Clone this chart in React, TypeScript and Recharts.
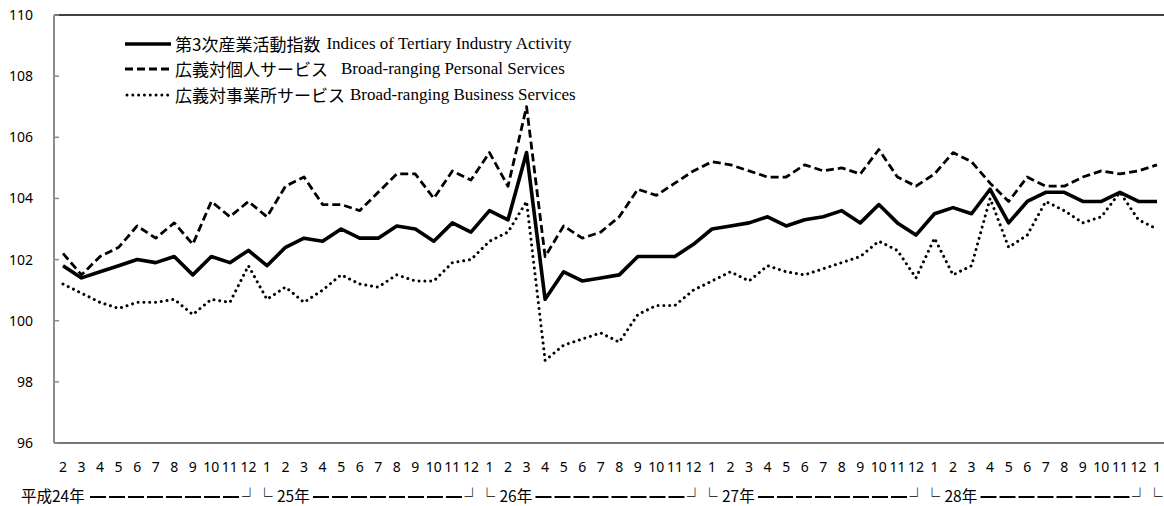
import React from 'react';
import { LineChart, Line, XAxis, YAxis, ReferenceLine, Legend } from 'recharts';

// Month labels along the axis (H24 Feb – H29 Jan)
const months = [
  2, 3, 4, 5, 6, 7, 8, 9, 10, 11, 12,
  1, 2, 3, 4, 5, 6, 7, 8, 9, 10, 11, 12,
  1, 2, 3, 4, 5, 6, 7, 8, 9, 10, 11, 12,
  1, 2, 3, 4, 5, 6, 7, 8, 9, 10, 11, 12,
  1, 2, 3, 4, 5, 6, 7, 8, 9, 10, 11, 12,
  1,
];

// last group only shows its corner mark at the edge of the picture
const yearLabels = ['平成24年', '25年', '26年', '27年', '28年', ''];

const tertiary = [
  101.8, 101.4, 101.6, 101.8, 102.0, 101.9, 102.1, 101.5, 102.1, 101.9, 102.3,
  101.8, 102.4, 102.7, 102.6, 103.0, 102.7, 102.7, 103.1, 103.0, 102.6, 103.2, 102.9,
  103.6, 103.3, 105.5, 100.7, 101.6, 101.3, 101.4, 101.5, 102.1, 102.1, 102.1, 102.5,
  103.0, 103.1, 103.2, 103.4, 103.1, 103.3, 103.4, 103.6, 103.2, 103.8, 103.2, 102.8,
  103.5, 103.7, 103.5, 104.3, 103.2, 103.9, 104.2, 104.2, 103.9, 103.9, 104.2, 103.9,
  103.9,
];

const personal = [
  102.2, 101.5, 102.1, 102.4, 103.1, 102.7, 103.2, 102.5, 103.9, 103.4, 103.9,
  103.4, 104.4, 104.7, 103.8, 103.8, 103.6, 104.2, 104.8, 104.8, 104.0, 104.9, 104.6,
  105.5, 104.4, 107.0, 102.1, 103.1, 102.7, 102.9, 103.4, 104.3, 104.1, 104.5, 104.9,
  105.2, 105.1, 104.9, 104.7, 104.7, 105.1, 104.9, 105.0, 104.8, 105.6, 104.7, 104.4,
  104.8, 105.5, 105.2, 104.5, 103.9, 104.7, 104.4, 104.4, 104.7, 104.9, 104.8, 104.9,
  105.1,
];

const business = [
  101.2, 100.9, 100.6, 100.4, 100.6, 100.6, 100.7, 100.2, 100.7, 100.6, 101.8,
  100.7, 101.1, 100.6, 101.0, 101.5, 101.2, 101.1, 101.5, 101.3, 101.3, 101.9, 102.0,
  102.6, 102.9, 103.9, 98.7, 99.2, 99.4, 99.6, 99.3, 100.2, 100.5, 100.5, 101.0,
  101.3, 101.6, 101.3, 101.8, 101.6, 101.5, 101.7, 101.9, 102.1, 102.6, 102.3, 101.4,
  102.7, 101.5, 101.8, 104.0, 102.4, 102.8, 103.9, 103.6, 103.2, 103.4, 104.2, 103.3,
  103.0,
];

const yTicks = [96, 98, 100, 102, 104, 106, 108, 110];

const legendJp = ['第3次産業活動指数', '広義対個人サービス', '広義対事業所サービス'];
const legendEn = [
  'Indices of Tertiary Industry Activity',
  'Broad-ranging Personal Services',
  'Broad-ranging Business Services',
];

const data = months.map((m, i) => ({
  key: `p${i}`,
  month: m,
  tertiary: tertiary[i],
  personal: personal[i],
  business: business[i],
}));

// layout
const W = 1164;
const H = 506;
const Y_AXIS_W = 54;
const X_AXIS_H = 63;
const PAD = { left: 9, right: 7 };
const STEP = (W - Y_AXIS_W - PAD.left - PAD.right) / (months.length - 1);

const groupStarts = months
  .map((m, i) => (i === 0 || m === 1 ? i : -1))
  .filter((i) => i >= 0);

const JP_FONT = '"Noto Sans CJK JP", "Noto Sans", sans-serif';
const NUM_FONT = '"Noto Sans", "Open Sans", sans-serif';
const EN_FONT = '"Liberation Serif", "DejaVu Serif", serif';

const styles = [
  { stroke: '#000', width: 3.6, dash: undefined as string | undefined, cap: 'butt' },
  { stroke: '#000', width: 2.8, dash: '8 4', cap: 'butt' },
  { stroke: '#000', width: 3, dash: '0.01 5.8', cap: 'round' },
];
const legendGaps = [6, 13, 5];

const XTick = (props: any) => {
  const { x, y, payload } = props;
  const index: number = props.index ?? payload?.index ?? 0;
  const m = months[index];
  const gi = groupStarts.indexOf(index);
  let group: React.ReactNode = null;
  if (gi >= 0) {
    const endIdx = gi + 1 < groupStarts.length ? groupStarts[gi + 1] - 1 : null;
    const endX = endIdx !== null ? x + (endIdx - index) * STEP : null;
    const yb = y + 59;
    const ly = y + 54;
    const startDash = gi === 0 ? x + 27 : x + 46;
    group = (
      <g>
        {gi === 0 ? (
          <text x={x - 42} y={yb} fontSize={15.5} fontFamily={JP_FONT} fill="#000">
            {yearLabels[gi]}
          </text>
        ) : (
          <>
            <text x={x - 10.5} y={yb} fontSize={16} fontWeight={700} fontFamily={JP_FONT} fill="#000">
              └
            </text>
            {yearLabels[gi] && (
              <text x={x + 10} y={yb} fontSize={15.5} fontFamily={JP_FONT} fill="#000">
                {yearLabels[gi]}
              </text>
            )}
          </>
        )}
        {endX !== null && (
          <>
            <line
              x1={startDash}
              x2={endX - 9}
              y1={ly}
              y2={ly}
              stroke="#000"
              strokeWidth={2}
              strokeDasharray="16 3"
            />
            <text x={endX - 6.5} y={yb} fontSize={16} fontWeight={700} fontFamily={JP_FONT} fill="#000">
              ┘
            </text>
          </>
        )}
      </g>
    );
  }
  return (
    <g>
      <text x={x} y={y + 29} textAnchor="middle" fontSize={14} fontFamily={NUM_FONT} fill="#000">
        {m}
      </text>
      {group}
    </g>
  );
};

const YTick = (props: any) => {
  const { x, y, payload } = props;
  return (
    <g>
      <line x1={x + 21} x2={x + 26} y1={y} y2={y} stroke="#8c8c8c" strokeWidth={1.5} />
      <text x={x} y={y} dy="0.36em" textAnchor="end" fontSize={14} fontFamily={NUM_FONT} fill="#000">
        {payload.value}
      </text>
    </g>
  );
};

const LegendContent = () => (
  <div style={{ display: 'flex', flexDirection: 'column' }}>
    {legendJp.map((jp, i) => (
      <div key={jp} style={{ display: 'flex', alignItems: 'center', height: 25.5, whiteSpace: 'nowrap' }}>
        <svg width={46} height={10} style={{ display: 'block' }}>
          <line
            x1={i === 2 ? 2 : 0}
            x2={46}
            y1={5}
            y2={5}
            stroke={styles[i].stroke}
            strokeWidth={styles[i].width}
            strokeDasharray={styles[i].dash}
            strokeLinecap={styles[i].cap as any}
          />
        </svg>
        <span style={{ marginLeft: 4, fontFamily: JP_FONT, fontSize: 17, lineHeight: '20px' }}>{jp}</span>
        <span style={{ marginLeft: legendGaps[i], fontFamily: EN_FONT, fontSize: 17, lineHeight: '20px' }}>
          {legendEn[i]}
        </span>
      </div>
    ))}
  </div>
);

export default function App() {
  return (
    <div style={{ position: 'absolute', left: 0, top: 0, width: W, height: H, background: '#fff' }}>
      <LineChart
        width={W}
        height={H}
        data={data}
        margin={{ top: 15, right: 0, bottom: 0, left: 0 }}
      >
        <XAxis
          dataKey="key"
          height={X_AXIS_H}
          padding={PAD}
          interval={0}
          tickLine={false}
          tickSize={0}
          tickMargin={0}
          axisLine={{ stroke: '#4a4a4a', strokeWidth: 1.5 }}
          tick={<XTick />}
        />
        <YAxis
          width={Y_AXIS_W}
          domain={[96, 110]}
          ticks={yTicks}
          interval={0}
          tickLine={false}
          tickSize={0}
          tickMargin={21}
          axisLine={{ stroke: '#8c8c8c', strokeWidth: 2 }}
          tick={<YTick />}
          allowDataOverflow
        />
        <ReferenceLine y={110} stroke="#000" strokeWidth={1.5} />
        <Legend
          layout="horizontal"
          verticalAlign="middle"
          align="center"
          content={<LegendContent />}
          wrapperStyle={{ top: 31, left: 125, width: 'auto', height: 'auto' }}
        />
        <Line
          type="linear"
          dataKey="business"
          stroke="#000"
          strokeWidth={styles[2].width}
          strokeDasharray={styles[2].dash}
          strokeLinecap="round"
          dot={false}
          activeDot={false}
          isAnimationActive={false}
        />
        <Line
          type="linear"
          dataKey="personal"
          stroke="#000"
          strokeWidth={styles[1].width}
          strokeDasharray={styles[1].dash}
          strokeLinejoin="round"
          dot={false}
          activeDot={false}
          isAnimationActive={false}
        />
        <Line
          type="linear"
          dataKey="tertiary"
          stroke="#000"
          strokeWidth={styles[0].width}
          strokeLinejoin="round"
          dot={false}
          activeDot={false}
          isAnimationActive={false}
        />
      </LineChart>
    </div>
  );
}
